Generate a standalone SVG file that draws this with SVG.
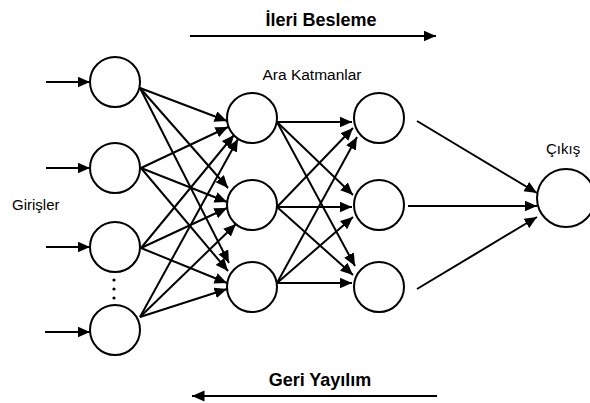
<svg xmlns="http://www.w3.org/2000/svg" width="590" height="403" viewBox="0 0 590 403">
  <style>
    .node { fill: #ffffff; stroke: #000000; stroke-width: 2; }
    .edge { stroke: #000000; stroke-width: 2; fill: none; marker-end: url(#head); }
    .label { font-family: "Liberation Sans", Arial, sans-serif; fill: #000000; }
    .title { font-family: "Liberation Sans", Arial, sans-serif; font-weight: bold; font-size: 18px; fill: #000000; text-anchor: middle; }
  </style>
  <defs>
    <marker id="head" markerUnits="userSpaceOnUse" markerWidth="13" markerHeight="12" refX="12.5" refY="5.5" orient="auto">
      <path d="M0,0 L12.5,5.5 L0,11 Z" fill="#000000"/>
    </marker>
  </defs>
  <rect width="590" height="403" fill="#ffffff"/>

  <!-- direction labels -->
  <g id="forward">
    <text class="title" x="321" y="26">İleri Besleme</text>
    <line class="edge" x1="190" y1="36" x2="436" y2="36"/>
  </g>
  <g id="backward">
    <text class="title" x="320" y="386">Geri Yayılım</text>
    <line class="edge" x1="437" y1="396" x2="192" y2="396"/>
  </g>

  <text class="label" x="312" y="80" font-size="15.5" text-anchor="middle">Ara Katmanlar</text>
  <text class="label" x="12" y="210" font-size="15">Girişler</text>
  <text class="label" x="546" y="154" font-size="15">Çıkış</text>

  <g id="connectors">
    <!-- external inputs -->
    <line class="edge" x1="46" y1="82" x2="90" y2="82"/>
    <line class="edge" x1="46" y1="168" x2="90" y2="168"/>
    <line class="edge" x1="46" y1="247" x2="90" y2="247"/>
    <line class="edge" x1="45" y1="332" x2="90" y2="332"/>
    <!-- inputs to first hidden layer -->
    <line class="edge" x1="140" y1="88" x2="227" y2="121"/>
    <line class="edge" x1="141" y1="168" x2="228" y2="127"/>
    <line class="edge" x1="141" y1="248" x2="234" y2="135"/>
    <line class="edge" x1="140" y1="317" x2="238" y2="139"/>
    <line class="edge" x1="140" y1="88" x2="228" y2="188"/>
    <line class="edge" x1="141" y1="168" x2="227" y2="202"/>
    <line class="edge" x1="141" y1="248" x2="227" y2="208"/>
    <line class="edge" x1="140" y1="317" x2="236" y2="224"/>
    <line class="edge" x1="140" y1="88" x2="229" y2="263"/>
    <line class="edge" x1="141" y1="168" x2="228" y2="271"/>
    <line class="edge" x1="141" y1="248" x2="227" y2="283"/>
    <line class="edge" x1="140" y1="317" x2="227" y2="289"/>
    <!-- first hidden layer to second hidden layer -->
    <line class="edge" x1="277" y1="122" x2="352" y2="122"/>
    <line class="edge" x1="277" y1="207" x2="353" y2="128"/>
    <line class="edge" x1="277" y1="283" x2="357" y2="137"/>
    <line class="edge" x1="277" y1="122" x2="353" y2="195"/>
    <line class="edge" x1="277" y1="207" x2="352" y2="207"/>
    <line class="edge" x1="277" y1="283" x2="353" y2="217"/>
    <line class="edge" x1="277" y1="122" x2="355" y2="266"/>
    <line class="edge" x1="277" y1="207" x2="353" y2="275"/>
    <line class="edge" x1="277" y1="283" x2="352" y2="283"/>
    <!-- second hidden layer to output -->
    <line class="edge" x1="417" y1="121" x2="537" y2="193"/>
    <line class="edge" x1="408" y1="206" x2="537" y2="206"/>
    <line class="edge" x1="417" y1="289" x2="537" y2="217"/>
  </g>

  <!-- input layer -->
  <g id="in1"><circle class="node" cx="115" cy="82" r="25"/></g>
  <g id="in2"><circle class="node" cx="115" cy="168" r="25"/></g>
  <g id="in3"><circle class="node" cx="115" cy="247" r="25"/></g>
  <g id="in4"><circle class="node" cx="115" cy="330" r="25"/></g>
  <g id="ellipsis" fill="#000000">
    <circle cx="114" cy="280" r="1.6"/>
    <circle cx="114" cy="289" r="1.6"/>
    <circle cx="114" cy="298" r="1.6"/>
  </g>

  <!-- first hidden layer -->
  <g id="h1a"><circle class="node" cx="252" cy="118" r="25"/></g>
  <g id="h1b"><circle class="node" cx="252" cy="205" r="25"/></g>
  <g id="h1c"><circle class="node" cx="252" cy="287" r="25"/></g>

  <!-- second hidden layer -->
  <g id="h2a"><circle class="node" cx="379" cy="118" r="25"/></g>
  <g id="h2b"><circle class="node" cx="379" cy="205" r="25"/></g>
  <g id="h2c"><circle class="node" cx="379" cy="287" r="25"/></g>

  <!-- output -->
  <g id="out"><circle class="node" cx="566" cy="198" r="29"/></g>
</svg>
